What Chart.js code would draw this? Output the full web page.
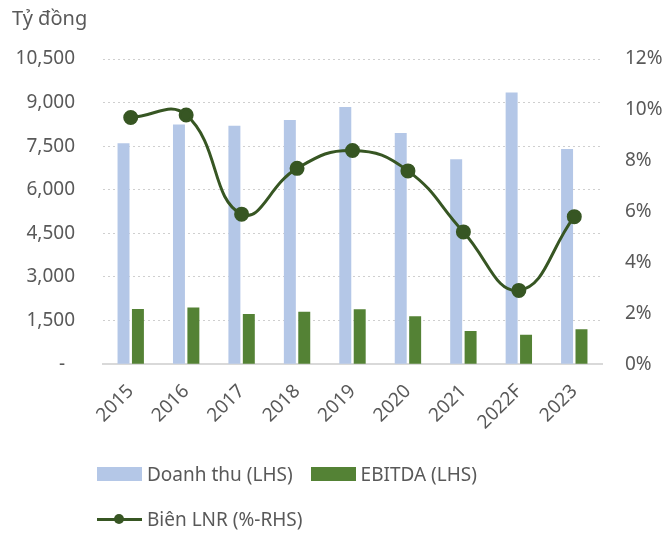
<!DOCTYPE html>
<html>
<head>
<meta charset="utf-8">
<script src="https://cdn.jsdelivr.net/npm/chart.js@4"></script>
<style>
  body { margin: 0; background: #fff; font-family: "Noto Sans", sans-serif; }
  #wrap { position: relative; width: 664px; height: 534px; }
  #legend { position: absolute; left: 97px; top: 462px; color: #595959; font-size: 19px; }
  .row { display: flex; align-items: center; height: 24px; margin-bottom: 21px; white-space: nowrap; }
  .item { display: flex; align-items: center; margin-right: 18px; }
  .box { width: 45px; height: 14px; margin-right: 5px; }
  .lineicon { position: relative; width: 45px; height: 14px; margin-right: 5px; }
  .lineicon .l { position: absolute; left: 0; right: 0; top: 5.5px; height: 3px; background: #375623; }
  .lineicon .d { position: absolute; left: 17px; top: 2px; width: 10px; height: 10px; border-radius: 50%; background: #375623; }
</style>
</head>
<body>
<div id="wrap">
  <canvas id="chart" width="664" height="534"></canvas>
  <div id="legend"></div>
</div>
<script>
var years = ['2015', '2016', '2017', '2018', '2019', '2020', '2021', '2022F', '2023'];
var revenue = [7600, 8250, 8200, 8400, 8850, 7950, 7050, 9350, 7400];
var ebitda = [1900, 1950, 1730, 1800, 1890, 1650, 1140, 1010, 1200];
var margin = [9.7, 9.8, 5.9, 7.7, 8.4, 7.6, 5.2, 2.9, 5.8];
var leftTicks = [0, 1500, 3000, 4500, 6000, 7500, 9000, 10500];

var textColor = '#595959';
var font = { family: 'Noto Sans', size: 19 };

var series = {
  labels: years,
  datasets: [
    {
      type: 'line', label: 'Biên LNR (%-RHS)', data: margin, yAxisID: 'y1', order: 0,
      borderColor: '#375623', backgroundColor: '#375623', borderWidth: 3,
      pointRadius: 6, pointHoverRadius: 6, tension: 0.45
    },
    {
      type: 'bar', label: 'Doanh thu (LHS)', data: revenue, yAxisID: 'y', order: 1,
      backgroundColor: '#b4c7e7', categoryPercentage: 0.52, barPercentage: 0.83
    },
    {
      type: 'bar', label: 'EBITDA (LHS)', data: ebitda, yAxisID: 'y', order: 2,
      backgroundColor: '#548235', categoryPercentage: 0.52, barPercentage: 0.83
    }
  ]
};

var preferences = {
  responsive: false,
  animation: false,
  layout: { padding: { left: 12, right: 0, top: 0, bottom: 92 } },
  plugins: {
    legend: { display: false },
    tooltip: { enabled: false },
    title: {
      display: true, text: 'Tỷ đồng', align: 'start', color: textColor,
      font: { family: 'Noto Sans', size: 20, weight: 'normal' },
      padding: { top: 7, bottom: 28 }
    }
  },
  scales: {
    x: {
      grid: { display: false },
      border: { display: true, color: '#d9d9d9', width: 2 },
      ticks: { color: textColor, font: font, minRotation: 45, maxRotation: 45, padding: 8 },
      afterFit: function(scale) {
        scale.paddingLeft = 0;
        scale.paddingRight = 0;
      }
    },
    y: {
      position: 'left', min: 0, max: 10500,
      afterBuildTicks: function(axis) {
        axis.ticks = leftTicks.map(function(v) { return { value: v }; });
      },
      // chart.js reserves the tick padding twice, so pin the axis width
      afterFit: function(scale) { scale.width = 91; },
      grid: { color: '#cfcfcf', lineWidth: 1, drawTicks: false },
      border: { display: false, dash: [2, 3] },
      ticks: {
        color: textColor, font: font, padding: 28,
        callback: function(value) {
          if (value === 0) return '-  ';
          return value.toLocaleString('en-US');
        }
      }
    },
    y1: {
      position: 'right', min: 0, max: 12,
      afterFit: function(scale) { scale.width = 62; },
      grid: { display: false, drawTicks: false },
      border: { display: false },
      ticks: {
        stepSize: 2, color: textColor, font: font, padding: 23,
        callback: function(value) { return value + '%'; }
      }
    }
  }
};

new Chart(document.getElementById('chart'), {
  type: 'bar',
  data: series,
  options: preferences
});

// legend drawn as html so the two rows can sit like the original
function buildLegend() {
  var html = '<div class="row">' +
    '<div class="item"><div class="box" style="background:#b4c7e7"></div>Doanh thu (LHS)</div>' +
    '<div class="item"><div class="box" style="background:#548235"></div>EBITDA (LHS)</div>' +
    '</div>' +
    '<div class="row"><div class="item"><div class="lineicon"><div class="l"></div><div class="d"></div></div>Biên LNR (%-RHS)</div></div>';
  document.getElementById('legend').innerHTML = html;
}
buildLegend();
</script>
</body>
</html>
